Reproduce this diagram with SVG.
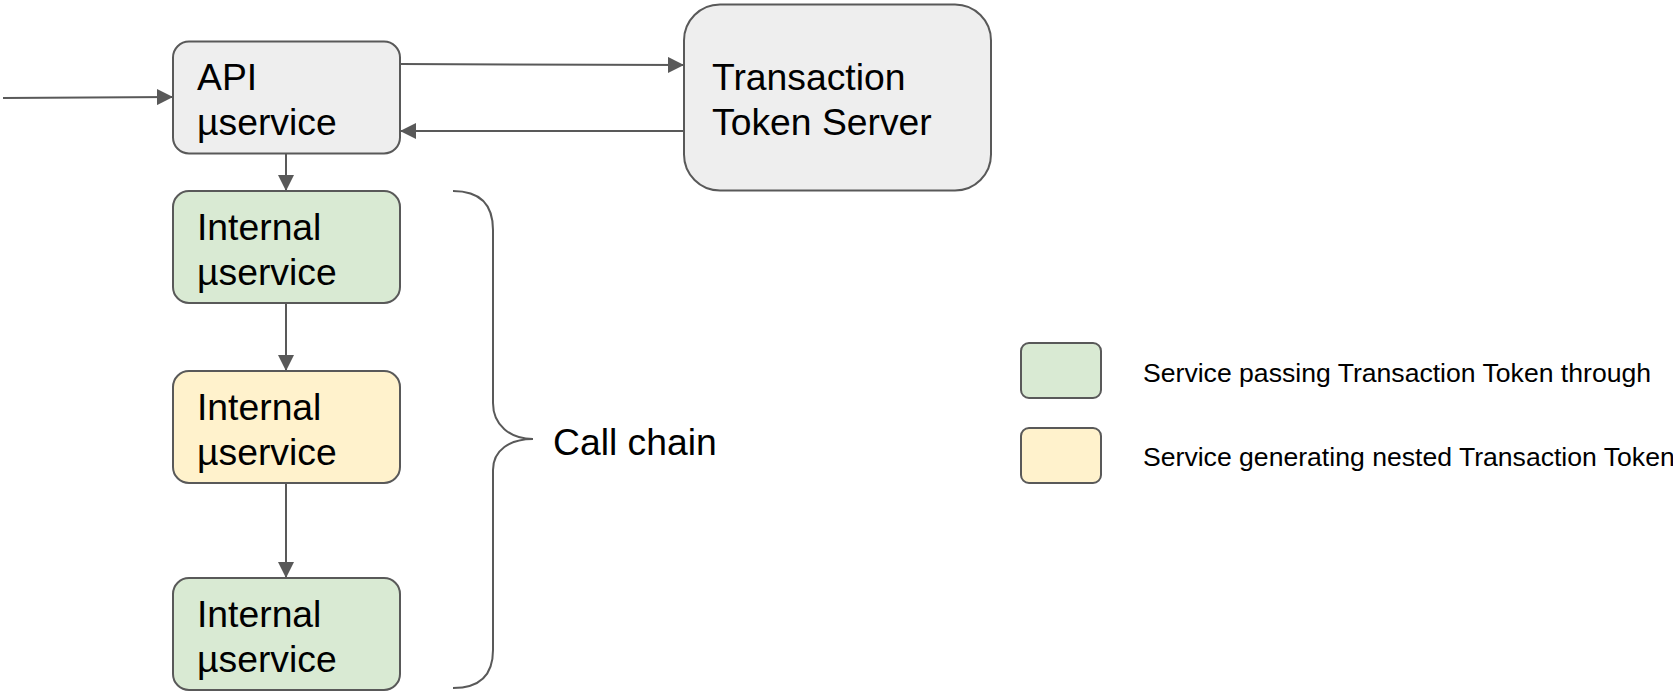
<svg xmlns="http://www.w3.org/2000/svg" width="1673" height="693" viewBox="0 0 1673 693">
<style>
.box{stroke:#595959;stroke-width:2}
.gray{fill:#eeeeee}
.green{fill:#d9ead3}
.yellow{fill:#fff2cc}
.lbl{font-family:"Liberation Sans",Arial,sans-serif;font-size:37.3px;fill:#000}
.leg{font-family:"Liberation Sans",Arial,sans-serif;font-size:26.6px;fill:#000}
.con{stroke:#595959;stroke-width:2;fill:none}
</style>
<defs>
<marker id="ahl" viewBox="0 0 10 10" refX="10" refY="5" markerWidth="16" markerHeight="16" markerUnits="userSpaceOnUse" orient="auto">
<path d="M0,0 L10,5 L0,10 z" fill="#595959"/>
</marker>
</defs>
<rect width="1673" height="693" fill="#fff"/>
<g id="connectors">
<line class="con" x1="3" y1="98" x2="173" y2="97" marker-end="url(#ahl)"/>
<line class="con" x1="400" y1="64" x2="684" y2="65" marker-end="url(#ahl)"/>
<line class="con" x1="684" y1="131" x2="400" y2="131" marker-end="url(#ahl)"/>
<line class="con" x1="286" y1="154" x2="286" y2="191" marker-end="url(#ahl)"/>
<line class="con" x1="286" y1="303" x2="286" y2="371" marker-end="url(#ahl)"/>
<line class="con" x1="286" y1="483" x2="286" y2="578" marker-end="url(#ahl)"/>
</g>
<g id="api">
<rect class="box gray" x="173" y="41.5" width="227" height="112" rx="16"/>
<text class="lbl" x="197" y="90">API</text>
<text class="lbl" x="197" y="135">µservice</text>
</g>
<g id="tts">
<rect class="box gray" x="684" y="4.5" width="307" height="186" rx="36"/>
<text class="lbl" x="712" y="90">Transaction</text>
<text class="lbl" x="712" y="135">Token Server</text>
</g>
<g id="internal1">
<rect class="box green" x="173" y="191" width="227" height="112" rx="16"/>
<text class="lbl" x="197" y="240">Internal</text>
<text class="lbl" x="197" y="285">µservice</text>
</g>
<g id="internal2">
<rect class="box yellow" x="173" y="371" width="227" height="112" rx="16"/>
<text class="lbl" x="197" y="420">Internal</text>
<text class="lbl" x="197" y="465">µservice</text>
</g>
<g id="internal3">
<rect class="box green" x="173" y="578" width="227" height="112" rx="16"/>
<text class="lbl" x="197" y="627">Internal</text>
<text class="lbl" x="197" y="672">µservice</text>
</g>
<g id="callchain">
<path class="con" d="M453,191 C480,191 493,205 493,230 L493,403 C493,425 510,439 533,439 C510,439 493,450 493,470 L493,650 C493,675 480,688 453,688"/>
<text class="lbl" x="553" y="455">Call chain</text>
</g>
<g id="legend">
<rect class="box green" x="1021" y="343" width="80" height="55" rx="8"/>
<text class="leg" x="1143" y="382">Service passing Transaction Token through</text>
<rect class="box yellow" x="1021" y="428" width="80" height="55" rx="8"/>
<text class="leg" x="1143" y="466">Service generating nested Transaction Token</text>
</g>
</svg>
